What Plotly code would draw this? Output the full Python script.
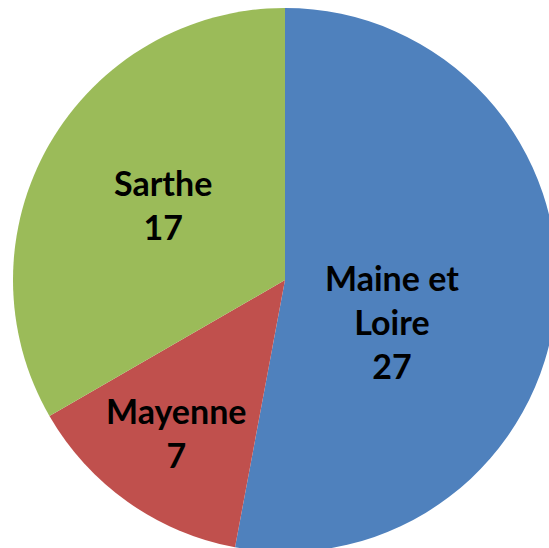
import math
import plotly.graph_objects as go

labels = ["Maine et<br>Loire", "Mayenne", "Sarthe"]
values = [27, 7, 17]
colors = ["#4F81BD", "#C0504D", "#9BBB59"]

# label placement (polar, relative to pie centre): angle clockwise from top in degrees, radius fraction
label_angle = [111.1, 215.4, 301.6]
label_radius = [0.42, 0.69, 0.527]

fig = go.Figure(go.Pie(
    labels=labels,
    values=values,
    marker=dict(colors=colors, line=dict(width=0)),
    sort=False,
    direction="clockwise",
    rotation=0,
    textinfo="none",
    hoverinfo="skip",
    domain=dict(x=[0, 1], y=[0, 1]),
))

for lab, val, ang, rf in zip(labels, values, label_angle, label_radius):
    a = math.radians(ang)
    fig.add_annotation(
        x=0.5 + 0.5 * rf * math.sin(a),
        y=0.5 + 0.5 * rf * math.cos(a),
        xref="paper", yref="paper",
        text=f"<b>{lab}<br>{val}</b>",
        showarrow=False,
        xanchor="center", yanchor="middle",
        font=dict(family="Lato", size=34, color="black"),
    )

fig.update_layout(
    width=557,
    height=552,
    margin=dict(l=13, r=0, t=8, b=0),
    showlegend=False,
    paper_bgcolor="white",
)

fig.write_html("out.html", config={"displayModeBar": False},
               post_script="document.body.style.margin='0';document.body.style.overflow='hidden';document.documentElement.style.overflow='hidden';")
